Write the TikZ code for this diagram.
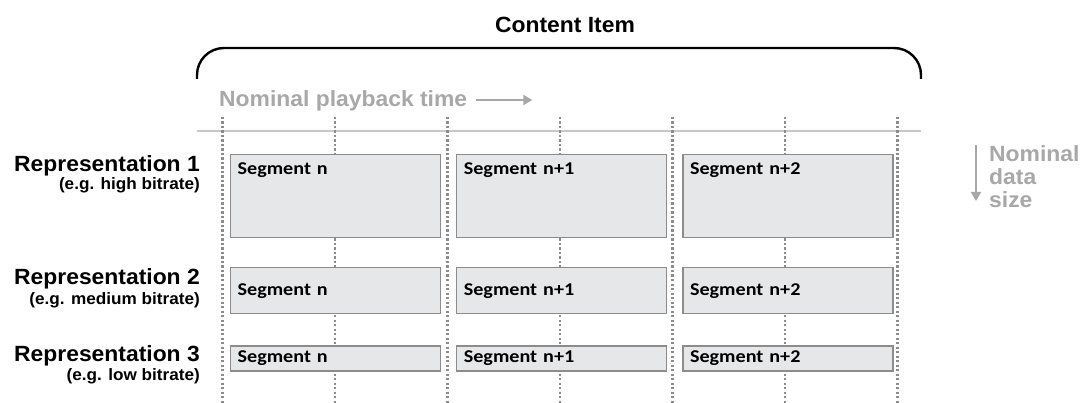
\documentclass[tikz,border=0pt]{standalone}
\usepackage{fontspec}
\setmainfont{Liberation Sans}[FakeStretch=1.04]
\newfontfamily\segfont{Carlito}[FakeStretch=1.12]
\usetikzlibrary{positioning, arrows.meta}
\definecolor{boxfill}{RGB}{230,231,232}
\definecolor{boxline}{RGB}{140,140,140}
\definecolor{hint}{RGB}{168,168,168}
\definecolor{rule}{RGB}{200,200,200}
\definecolor{guide}{RGB}{140,140,140}

\begin{document}
\begin{tikzpicture}[x=1pt, y=-1pt,
    seg/.style={rectangle, draw=boxline, fill=boxfill, line width=1.2pt, text width=196pt, inner xsep=7pt, align=left, font=\segfont\bfseries\fontsize{18}{20}\selectfont},
    seghigh/.style={seg, inner ysep=8pt, text height=12pt, text depth=55pt},
    segmid/.style={seg, inner ysep=0pt, minimum height=46pt},
    seglow/.style={seg, inner ysep=0pt, minimum height=25pt},
    rep/.style={inner sep=0pt, anchor=base east, font=\bfseries\fontsize{22}{24}\selectfont},
    repsub/.style={inner sep=0pt, anchor=base east, font=\bfseries\fontsize{16.5}{18}\selectfont},
    hinttext/.style={inner sep=0pt, text=hint, font=\bfseries\fontsize{22}{23}\selectfont},
    grid/.style={guide, line width=2.6pt, dash pattern=on 2.2pt off 2.3pt},
    hintarrow/.style={hint, line width=2.2pt, -{Triangle[length=9pt, width=10pt]}},
    ]
    \useasboundingbox (0,0) rectangle (1083,403);

    % Content item brace
    \node[inner sep=0pt, anchor=base, font=\bfseries\fontsize{22}{24}\selectfont] (item) at (565,33) {Content Item};
    \draw[line width=2.4pt, rounded corners=27pt] (197,79) -- (197,48) -- (921,48) -- (921,79);

    % Playback time axis
    \node[hinttext, anchor=base west] (playback) at (219,107) {Nominal playback time};
    \coordinate[right=65pt of playback.base east, yshift=7pt] (playback_end);
    \draw[hintarrow] ([xshift=9pt, yshift=7pt]playback.base east) -- (playback_end);
    \draw[rule, line width=2.6pt] (197,131) -- (921,131);

    % Time grid
    \foreach \i in {0,...,6}
        \draw[grid] (222.5+112.5*\i,117) -- (222.5+112.5*\i,403);

    % Representations
    \node[rep] (rep1) at (200,172) {Representation 1};
    \node[repsub] (rep1_sub) at (200,190) {(e.g. high bitrate)};
    \node[rep] (rep2) at (200,284) {Representation 2};
    \node[repsub] (rep2_sub) at (200,304) {(e.g. medium bitrate)};
    \node[rep] (rep3) at (200,361) {Representation 3};
    \node[repsub] (rep3_sub) at (200,380) {(e.g. low bitrate)};

    % Segments
    \node[seghigh, anchor=north west] (s1a) at (230,154) {Segment n};
    \node[seghigh, right=15pt of s1a] (s1b) {Segment n+1};
    \node[seghigh, right=15pt of s1b] (s1c) {Segment n+2};

    \node[segmid, below=29pt of s1a] (s2a) {Segment n};
    \node[segmid, right=15pt of s2a] (s2b) {Segment n+1};
    \node[segmid, right=15pt of s2b] (s2c) {Segment n+2};

    \node[seglow, below=31pt of s2a] (s3a) {Segment n};
    \node[seglow, right=15pt of s3a] (s3b) {Segment n+1};
    \node[seglow, right=15pt of s3b] (s3c) {Segment n+2};

    % Data size axis
    \node[hinttext, anchor=north west, align=left] (datasize) at (989,145) {Nominal\\data\\size};
    \coordinate (datasize_top) at (976,145);
    \coordinate[below=56pt of datasize_top] (datasize_end);
    \draw[hintarrow] (datasize_top) -- (datasize_end);

\end{tikzpicture}
\end{document}
